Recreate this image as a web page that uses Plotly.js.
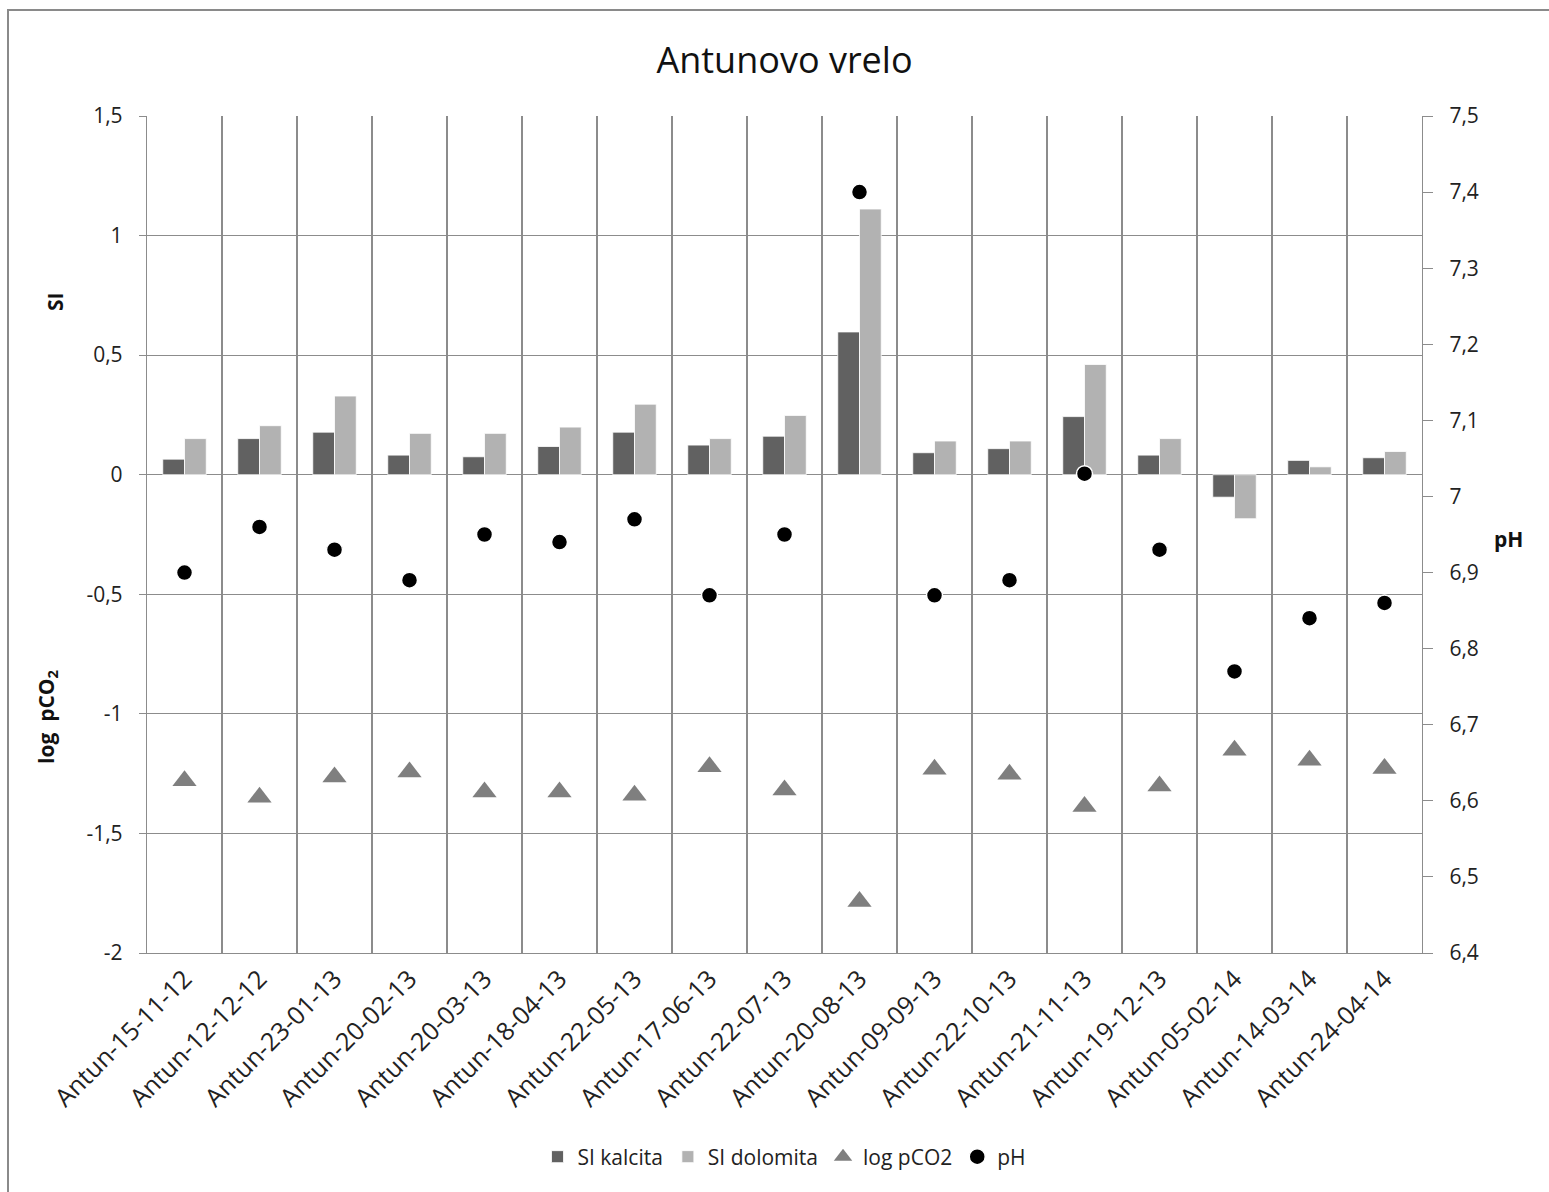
<!DOCTYPE html>
<html>
<head>
<meta charset="utf-8">
<script src="https://cdn.plot.ly/plotly-3.0.1.min.js"></script>
<style>
  html, body { margin: 0; padding: 0; background: #fff; }
  #wrap { position: relative; width: 1549px; height: 1192px; overflow: hidden; }
  #chart { position: absolute; left: 0; top: 0; width: 1549px; height: 1192px; }
  #frame { position: absolute; left: 7px; top: 9px; width: 1600px; height: 1300px;
           border-left: 2px solid #8a8a8a; border-top: 2px solid #8a8a8a; pointer-events: none; }
</style>
</head>
<body>
<div id="wrap"><div id="chart"></div><div id="frame"></div></div>
<script>
const categories = [
  "Antun-15-11-12","Antun-12-12-12","Antun-23-01-13","Antun-20-02-13","Antun-20-03-13",
  "Antun-18-04-13","Antun-22-05-13","Antun-17-06-13","Antun-22-07-13","Antun-20-08-13",
  "Antun-09-09-13","Antun-22-10-13","Antun-21-11-13","Antun-19-12-13","Antun-05-02-14",
  "Antun-14-03-14","Antun-24-04-14"
];
const siKalcita  = [0.065, 0.151, 0.178, 0.082, 0.075, 0.118, 0.178, 0.124, 0.161, 0.597, 0.092, 0.109, 0.243, 0.082, -0.094, 0.060, 0.071];
const siDolomita = [0.151, 0.205, 0.329, 0.173, 0.173, 0.199, 0.295, 0.151, 0.248, 1.111, 0.141, 0.141, 0.461, 0.151, -0.184, 0.033, 0.097];
const logPCO2    = [-1.280, -1.349, -1.264, -1.243, -1.327, -1.327, -1.340, -1.221, -1.318, -1.785, -1.232, -1.253, -1.387, -1.302, -1.152, -1.194, -1.228];
const pH         = [6.90, 6.96, 6.93, 6.89, 6.95, 6.94, 6.97, 6.87, 6.95, 7.40, 6.87, 6.89, 7.03, 6.93, 6.77, 6.84, 6.86];

const leftTickVals  = [1.5, 1, 0.5, 0, -0.5, -1, -1.5, -2];
const leftTickText  = ["1,5", "1", "0,5", "0", "-0,5", "-1", "-1,5", "-2"];
const rightTickVals = [7.5, 7.4, 7.3, 7.2, 7.1, 7.0, 6.9, 6.8, 6.7, 6.6, 6.5, 6.4];
const rightTickText = ["7,5", "7,4", "7,3", "7,2", "7,1", "7", "6,9", "6,8", "6,7", "6,6", "6,5", "6,4"];

const FONT = "Open Sans, DejaVu Sans, sans-serif";
const TXT = "#222222";
const GRID = "#8c8c8c";

const traces = [
  { type: "bar", name: "SI kalcita", x: categories, y: siKalcita,
    marker: { color: "#616161", line: { color: "#ffffff", width: 0.8 } }, yaxis: "y" },
  { type: "bar", name: "SI dolomita", x: categories, y: siDolomita,
    marker: { color: "#b2b2b2", line: { color: "#ffffff", width: 0.8 } }, yaxis: "y" },
  { type: "scatter", mode: "markers", name: "log pCO2", x: categories, y: logPCO2,
    marker: { symbol: "triangle-up", size: 21, color: "#7f7f7f" }, yaxis: "y" },
  { type: "scatter", mode: "markers", name: "pH", x: categories, y: pH,
    marker: { symbol: "circle", size: 16, color: "#000000", line: { color: "#ffffff", width: 1.5 } }, yaxis: "y2" }
];

const layout = {
  width: 1549, height: 1192,
  margin: { l: 147, r: 127, t: 116, b: 239 },
  paper_bgcolor: "#ffffff", plot_bgcolor: "#ffffff",
  font: { family: FONT, color: TXT, size: 21 },
  title: { text: "Antunovo vrelo", font: { family: FONT, size: 36, color: "#111111" },
           x: 0.5, xref: "paper", xanchor: "center", y: 1 - 60/1192, yref: "container", yanchor: "middle" },
  barmode: "group", bargap: 0.42, bargroupgap: 0,
  showlegend: true,
  legend: { orientation: "h", x: 0.5, xref: "paper", xanchor: "center",
            y: 1 - 1157/1192, yref: "container", yanchor: "middle",
            font: { family: FONT, size: 21, color: TXT }, itemwidth: 30, traceorder: "normal" },
  xaxis: {
    type: "category", range: [-0.5, categories.length - 0.5], autorange: false,
    tickson: "boundaries", showgrid: true, gridcolor: GRID, gridwidth: 1.2,
    showline: true, linecolor: GRID, linewidth: 1.2, ticks: "", tickangle: -45,
    tickfont: { family: FONT, size: 25, color: TXT }, zeroline: false, mirror: false
  },
  yaxis: {
    range: [-2, 1.5], autorange: false, tickvals: leftTickVals, ticktext: leftTickText,
    showgrid: true, gridcolor: GRID, gridwidth: 1.2, zeroline: false,
    showline: true, linecolor: GRID, linewidth: 1.2,
    ticks: "outside", ticklen: 7, tickcolor: GRID, ticklabelstandoff: 12,
    tickfont: { family: FONT, size: 21, color: TXT }
  },
  yaxis2: {
    range: [6.4, 7.5], autorange: false, overlaying: "y", side: "right", anchor: "x",
    tickvals: rightTickVals, ticktext: rightTickText,
    showgrid: false, zeroline: false, showline: true, linecolor: GRID, linewidth: 1.2,
    ticks: "outside", ticklen: 10, tickcolor: GRID, ticklabelstandoff: 12,
    tickfont: { family: FONT, size: 21, color: TXT }
  },
  annotations: [
    { text: "SI", xref: "paper", yref: "paper", x: 0, y: (953-302)/837, xshift: -92,
      xanchor: "center", yanchor: "middle", textangle: -90, showarrow: false,
      font: { family: FONT, size: 21, color: "#111111", weight: "bold" } },
    { text: "log  pCO<sub>2</sub>", xref: "paper", yref: "paper", x: 0, y: (953-717)/837, xshift: -100,
      xanchor: "center", yanchor: "middle", textangle: -90, showarrow: false,
      font: { family: FONT, size: 21, color: "#111111", weight: "bold" } },
    { text: "pH", xref: "paper", yref: "paper", x: 1, y: (953-539)/837, xshift: 86,
      xanchor: "center", yanchor: "middle", showarrow: false,
      font: { family: FONT, size: 21, color: "#111111", weight: "bold" } }
  ]
};

Plotly.newPlot("chart", traces, layout, { displayModeBar: false, staticPlot: true });
</script>
</body>
</html>
